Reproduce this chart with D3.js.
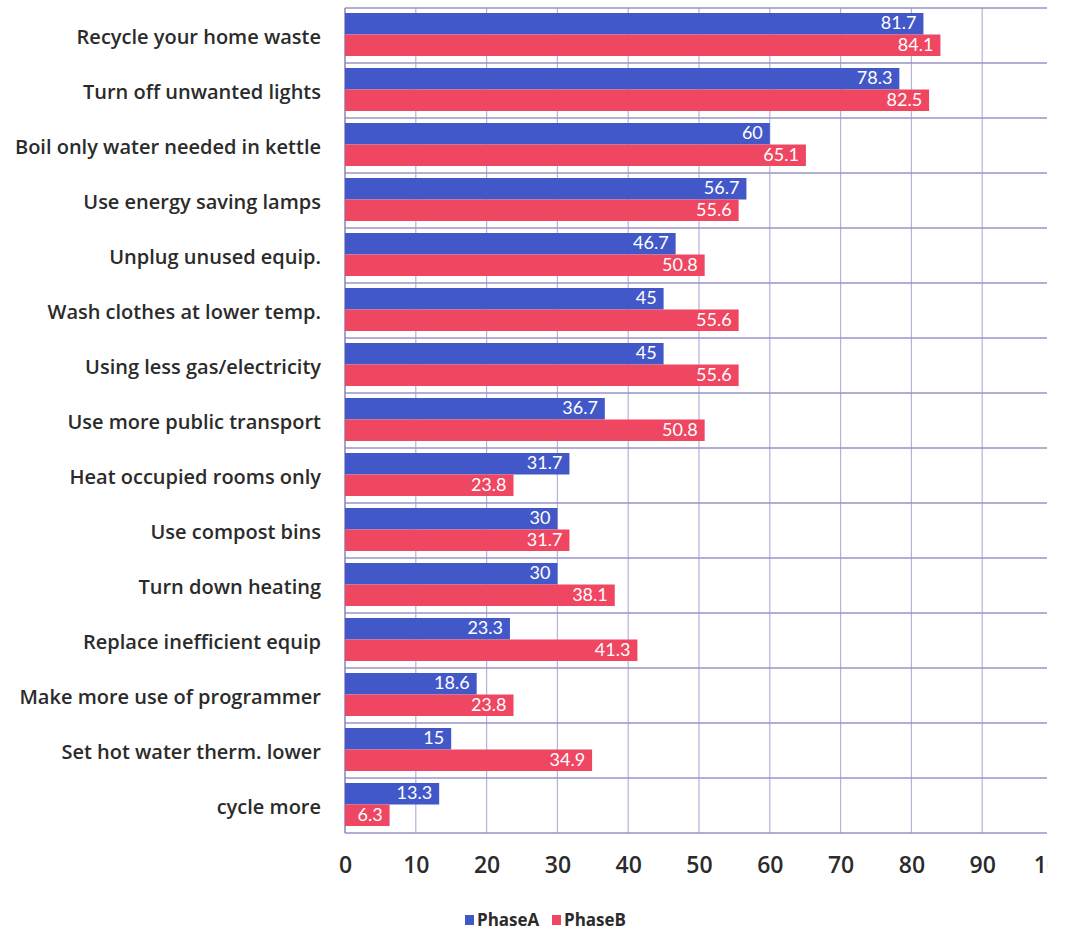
<!DOCTYPE html>
<html><head><meta charset="utf-8">
<script src="https://cdn.jsdelivr.net/npm/d3@7"></script>
<style>body{margin:0;background:#fff;} svg{display:block;}</style>
</head><body>
<svg id="c" width="1065" height="933"></svg>
<script>
const categories = ["Recycle your home waste","Turn off unwanted lights","Boil only water needed in kettle","Use energy saving lamps","Unplug unused equip.","Wash clothes at lower temp.","Using less gas/electricity","Use more public transport","Heat occupied rooms only","Use compost bins","Turn down heating","Replace inefficient equip","Make more use of programmer","Set hot water therm. lower","cycle more"];
const phaseA = [81.7,78.3,60,56.7,46.7,45,45,36.7,31.7,30,30,23.3,18.6,15,13.3];
const phaseB = [84.1,82.5,65.1,55.6,50.8,55.6,55.6,50.8,23.8,31.7,38.1,41.3,23.8,34.9,6.3];
const seriesNames = ["PhaseA","PhaseB"];
const xTicks = [0,10,20,30,40,50,60,70,80,90,100];

const colors = {PhaseA:"#4358c8", PhaseB:"#ef4661"};
const svg = d3.select("#c");
const clipW = 1048;
svg.append("defs").append("clipPath").attr("id","clip").append("rect").attr("x",0).attr("y",0).attr("width",clipW).attr("height",933);
const g = svg.append("g").attr("clip-path","url(#clip)");

const x = d3.scaleLinear().domain([0,100]).range([345,1053]);
const y = d3.scaleBand().domain(categories).range([8,833]).padding(0);
const ySub = d3.scaleBand().domain(seriesNames).range([5, y.bandwidth()-7]).padding(0);

// vertical gridlines
g.append("g").selectAll("line").data(xTicks.slice(1)).join("line")
  .attr("x1",d=>x(d)).attr("x2",d=>x(d)).attr("y1",8).attr("y2",833)
  .attr("stroke","#b8b0de").attr("stroke-width",1.2);
// horizontal row lines
const rowEdges = categories.map(c=>y(c)).concat([y.range()[1]]);
g.append("g").selectAll("line").data(rowEdges).join("line")
  .attr("x1",x(0)).attr("x2",clipW-1).attr("y1",d=>d).attr("y2",d=>d)
  .attr("stroke","#9a93c4").attr("stroke-width",1.3);
// left axis
g.append("line").attr("x1",x(0)).attr("x2",x(0)).attr("y1",8).attr("y2",833)
  .attr("stroke","#8a82be").attr("stroke-width",1.5);

const data = categories.map((c,i)=>({c, vals:[{s:"PhaseA",v:phaseA[i]},{s:"PhaseB",v:phaseB[i]}]}));
const grp = g.append("g").selectAll("g").data(data).join("g")
  .attr("transform",d=>`translate(0,${y(d.c)})`);
grp.selectAll("rect").data(d=>d.vals).join("rect")
  .attr("x",x(0)).attr("y",d=>ySub(d.s)).attr("width",d=>x(d.v)-x(0)).attr("height",ySub.bandwidth())
  .attr("fill",d=>colors[d.s]);
grp.selectAll("text").data(d=>d.vals).join("text")
  .attr("x",d=>x(d.v)-7).attr("y",d=>ySub(d.s)+ySub.bandwidth()/2+1)
  .attr("text-anchor","end").attr("dominant-baseline","middle")
  .attr("fill","#fff").style("font-family","Lato, 'Open Sans', sans-serif").style("font-size","18px")
  .text(d=>d.v);

// category labels
const yAxis = d3.axisLeft(y).tickSize(0).tickPadding(0);
const ya = g.append("g").attr("transform","translate(321,2)").call(yAxis);
ya.select(".domain").remove();
ya.selectAll("text").attr("fill","#2b2b2b").style("font-family","'Open Sans', Lato, sans-serif")
  .style("font-size","20px").style("font-weight","600").attr("dy","0.32em");

// x tick labels
const xAxis = d3.axisBottom(x).tickValues(xTicks).tickSize(0).tickPadding(0).tickFormat(d3.format("d"));
const xa = g.append("g").attr("transform","translate(0,857)").call(xAxis);
xa.select(".domain").remove();
xa.selectAll("text").attr("fill","#2b2b2b").style("font-family","'Open Sans', Lato, sans-serif")
  .style("font-size","23px").style("font-weight","600");

// legend
const leg = svg.append("g").attr("transform","translate(465,920)");
const lx = [0, 87];
seriesNames.forEach((s,i)=>{
  leg.append("rect").attr("x",lx[i]).attr("y",-5).attr("width",9).attr("height",10).attr("fill",colors[s]);
  leg.append("text").attr("x",lx[i]+12).attr("y",1).attr("dominant-baseline","middle")
    .attr("fill","#2b2b2b").style("font-family","'Open Sans', Lato, sans-serif")
    .style("font-size","17px").style("font-weight","700").text(s);
});
</script>
</body></html>
